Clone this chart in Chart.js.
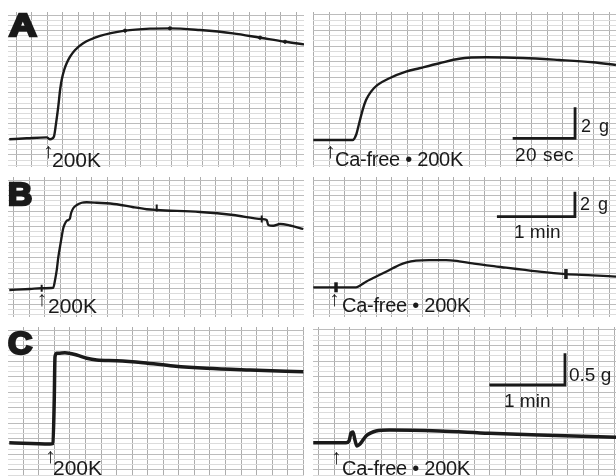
<!DOCTYPE html>
<html>
<head>
<meta charset="utf-8">
<script src="https://cdn.jsdelivr.net/npm/chart.js@4.4.1/dist/chart.umd.min.js"></script>
<style>
  html, body { margin: 0; padding: 0; background: #fff; }
  #fig { position: relative; width: 616px; height: 476px; overflow: hidden; background: #fff;
         font-family: "Liberation Sans", Arial, sans-serif; color: #1a1a1a; }
  #fig canvas { position: absolute; }
  .t { position: absolute; white-space: nowrap; line-height: 1; font-size: 20px; }
  .arr { position: absolute; line-height: 1; font-size: 21px; font-family: "Liberation Sans", Arial, sans-serif; }
  .lt { position: absolute; line-height: 1; font-size: 32px; font-weight: 700; white-space: nowrap;
        -webkit-text-stroke: 2.5px #1a1a1a; transform-origin: 0 0; }
</style>
</head>
<body>
<div id="fig">
  <canvas id="aCtrl"></canvas><canvas id="aCa"></canvas>
  <canvas id="bCtrl"></canvas><canvas id="bCa"></canvas>
  <canvas id="cCtrl"></canvas><canvas id="cCa"></canvas>

  <div class="lt" style="left:9px;top:9px;transform:scaleX(1.2)">A</div>
  <div class="lt" style="left:8px;top:178px;transform:scaleX(1.05)">B</div>
  <div class="lt" style="left:8px;top:327px;transform:scaleX(1.05)">C</div>

  <div class="arr" style="left:43px;top:140px">↑</div>
  <div class="t" style="left:52px;top:148.7px;font-size:21px">200K</div>
  <div class="arr" style="left:325px;top:140px">↑</div>
  <div class="t" style="left:335px;top:149px;letter-spacing:-0.25px">Ca-free • 200K</div>
  <div class="t" style="left:581px;top:116.8px;font-size:18px;letter-spacing:1.5px">2 g</div>
  <div class="t" style="left:515px;top:145px;font-size:19px;letter-spacing:0.5px">20 sec</div>

  <div class="arr" style="left:36.5px;top:288px">↑</div>
  <div class="t" style="left:48px;top:295.2px;font-size:21px">200K</div>
  <div class="arr" style="left:329px;top:288px">↑</div>
  <div class="t" style="left:342px;top:294.8px;letter-spacing:-0.25px">Ca-free • 200K</div>
  <div class="t" style="left:580px;top:194.8px;font-size:18px;letter-spacing:1.5px">2 g</div>
  <div class="t" style="left:514px;top:222px;font-size:19px">1 min</div>

  <div class="arr" style="left:45px;top:445px">↑</div>
  <div class="t" style="left:53px;top:457.2px;font-size:21px">200K</div>
  <div class="arr" style="left:331px;top:446px">↑</div>
  <div class="t" style="left:342px;top:458px;letter-spacing:-0.25px">Ca-free • 200K</div>
  <div class="t" style="left:569px;top:365px;font-size:19px">0.5 g</div>
  <div class="t" style="left:504px;top:391px;font-size:19px">1 min</div>
</div>

<script>
// ---- Tension traces (time in s, tension in g above resting level) ----

// A: normal solution, 200 mM K+
const aCtrlTime    = [0.4, 6, 12.4, 13.5, 14.7, 15.4, 16.1, 16.7, 17.2, 18.0, 18.8, 19.9, 21.5, 24.1, 29.5, 37.5, 45.5, 51.9, 61.5, 72.1, 80.8, 88.8, 94.9];
const aCtrlTension = [-0.08, -0.02, 0.04, -0.08, 0.08, 0.94, 1.99, 3.08, 3.72, 4.36, 4.79, 5.21, 5.64, 6.07, 6.54, 6.88, 7.01, 7.03, 6.92, 6.71, 6.43, 6.17, 6.0];
const aCtrlMarkTime    = [37.5, 51.9, 80.8, 88.8];
const aCtrlMarkTension = [6.88, 7.03, 6.43, 6.17];

// A: Ca-free solution, 200 mM K+
const aCaTime    = [0.1, 6, 12.7, 13.8, 14.8, 15.9, 17.0, 18.6, 20.7, 24.5, 29.8, 34.1, 40.5, 46.9, 55.5, 67.2, 78.9, 89.7, 97.1];
const aCaTension = [0, 0, 0, 0.32, 1.07, 1.92, 2.56, 3.10, 3.53, 3.96, 4.38, 4.60, 4.92, 5.21, 5.30, 5.26, 5.13, 4.98, 4.81];
// calibration: 20 s, 2 g
const aBarTime    = [64, 84, 84];
const aBarTension = [0.1, 0.1, 2.1];

// B: normal solution, 200 mM K+
const bCtrlTime    = [1.0, 16.9, 25.9, 34.8, 36.2, 37.5, 38.7, 40.0, 41.3, 42.5, 43.9, 45.2, 46.4, 47.7, 48.5, 50.2, 52.9, 56.7, 60.5, 68.2, 83.6, 96.4, 106.7, 114.4, 147.7, 173.3, 195.2, 199.0, 200.2, 204.1, 209.2, 216.9, 227.2];
const bCtrlTension = [-0.16, -0.08, -0.02, 0.02, 0.64, 1.44, 2.46, 3.30, 4.10, 4.78, 5.17, 5.38, 5.44, 5.58, 5.98, 6.38, 6.64, 6.82, 6.86, 6.82, 6.70, 6.46, 6.30, 6.24, 6.08, 5.84, 5.52, 5.44, 5.04, 4.98, 5.12, 5.00, 4.72];
const bCtrlMarkTime    = [25.9, 114.4, 195.2];
const bCtrlMarkTension = [-0.02, 6.40, 5.52];

// B: Ca-free solution, 200 mM K+
const bCaTime    = [0.2, 33.1, 36.9, 40.8, 45.9, 51.0, 56.2, 61.3, 66.4, 71.5, 79.2, 89.5, 102.3, 112.5, 122.8, 135.6, 148.5, 161.3, 174.1, 194.6, 215.2, 233.1];
const bCaTension = [0, 0, 0.18, 0.45, 0.72, 0.98, 1.25, 1.52, 1.78, 1.97, 2.13, 2.18, 2.18, 2.08, 1.92, 1.73, 1.57, 1.41, 1.25, 1.06, 0.96, 0.85];
const bCaMarkTime    = [17.7, 194.6];
const bCaMarkTension = [0, 1.06];
// calibration: 1 min, 2 g
const bBarTime    = [141.5, 201.5, 201.5];
const bBarTension = [5.65, 5.65, 7.65];

// C: normal solution, 200 mM K+
const cCtrlTime    = [1.0, 33.3, 35.7, 36.7, 37.3, 38.7, 39.9, 45.2, 54.5, 62.5, 70.4, 86.3, 107.4, 131.2, 157.7, 192.1, 234.4];
const cCtrlTension = [0.005, -0.016, -0.008, 0.68, 1.361, 1.415, 1.415, 1.424, 1.388, 1.336, 1.309, 1.298, 1.267, 1.215, 1.178, 1.151, 1.125];

// C: Ca-free solution, 200 mM K+
const cCaTime    = [0.2, 26.2, 28.6, 30.2, 31.7, 33.3, 34.9, 37.3, 42.1, 46.0, 50.0, 60.6, 100.2, 139.9, 179.6, 240.5];
const cCaTension = [0, 0, 0.027, 0.153, 0.169, 0.042, -0.052, -0.021, 0.105, 0.155, 0.185, 0.20, 0.185, 0.148, 0.121, 0.085];
// calibration: 1 min, 0.5 g
const cBarTime    = [140, 200, 200];
const cBarTension = [0.91, 0.91, 1.41];

// ---- Chart-paper look ----
const INK = '#1a1a1a';
const GRID_V = 15.55;      // px between vertical rulings
const GRID_H = 5.18;       // px between horizontal rulings (every 3rd is heavier)

function pts(xs, ys) { return xs.map((x, i) => ({ x: x, y: ys[i] })); }

// Rulings are laid out in pixels of the recording paper, then turned into axis values.
function paperTicks(stepPx, phasePx, heavyEvery) {
  return function (scale) {
    const horiz = scale.isHorizontal();
    const span = horiz ? scale.width : scale.height;
    const perPx = (scale.max - scale.min) / span;
    const step = stepPx * perPx;
    const ticks = [];
    for (let i = 0; i < 400; i++) {
      const v = horiz ? scale.min + (phasePx * perPx) + i * step
                      : scale.max - (phasePx * perPx) - i * step;
      if (v > scale.max + 1e-9 || v < scale.min - 1e-9) break;
      ticks.push({ value: v, heavy: heavyEvery ? (i % heavyEvery === 0) : true });
    }
    scale.ticks = ticks;
  };
}

function makePanel(p) {
  const el = document.getElementById(p.id);
  el.width = p.box[2]; el.height = p.box[3];
  el.style.left = p.box[0] + 'px'; el.style.top = p.box[1] + 'px';

  const datasets = [{
    data: pts(p.time, p.tension),
    borderColor: INK, borderWidth: p.lw, pointRadius: 0,
    cubicInterpolationMode: 'monotone', fill: false
  }];
  if (p.markTime) {
    datasets.push({
      data: pts(p.markTime, p.markTension), showLine: false,
      pointStyle: p.markStyle, rotation: 90, pointRadius: p.markSize,
      borderColor: INK, backgroundColor: INK, pointBorderWidth: p.markWidth
    });
  }
  if (p.barTime) {
    datasets.push({
      data: pts(p.barTime, p.barTension), borderColor: INK, borderWidth: 2.8,
      pointRadius: 0, tension: 0, borderJoinStyle: 'miter', borderCapStyle: 'butt'
    });
  }

  new Chart(el, {
    type: 'line',
    data: { datasets: datasets },
    options: {
      responsive: false, animation: false, devicePixelRatio: 1, events: [],
      layout: { padding: 0, autoPadding: false },
      plugins: { legend: { display: false }, tooltip: { enabled: false } },
      scales: {
        x: {
          type: 'linear', min: p.x[0], max: p.x[1],
          afterBuildTicks: paperTicks(GRID_V, p.phase[0], 0),
          ticks: { display: false },
          grid: { drawTicks: false, lineWidth: 1, color: '#adadad' },
          border: { display: false }
        },
        y: {
          type: 'linear', min: p.y[0], max: p.y[1],
          afterBuildTicks: paperTicks(GRID_H, p.phase[1], 3),
          ticks: { display: false },
          grid: {
            drawTicks: false, lineWidth: 1,
            color: (c) => (c.tick && c.tick.heavy) ? '#bcbcbc' : '#dcdcdc'
          },
          border: { display: false }
        }
      }
    }
  });
}

const panels = [
  { id: 'aCtrl', box: [8, 12, 296, 155], x: [0, 94.87], y: [-1.859, 8.077], phase: [8.2, 3], lw: 2.4,
    time: aCtrlTime, tension: aCtrlTension,
    markTime: aCtrlMarkTime, markTension: aCtrlMarkTension, markStyle: 'circle', markSize: 1.6, markWidth: 1 },
  { id: 'aCa', box: [313, 12, 303, 155], x: [0, 97.12], y: [-1.731, 8.205], phase: [1, 3], lw: 2.4,
    time: aCaTime, tension: aCaTension, barTime: aBarTime, barTension: aBarTension },
  { id: 'bCtrl', box: [8, 177, 296, 140], x: [0, 227.7], y: [-2.32, 8.88], phase: [5.8, 3], lw: 2.3,
    time: bCtrlTime, tension: bCtrlTension,
    markTime: bCtrlMarkTime, markTension: bCtrlMarkTension, markStyle: 'line', markSize: 3.5, markWidth: 2 },
  { id: 'bCa', box: [313, 177, 303, 140], x: [0, 233.1], y: [-2.376, 8.824], phase: [0.8, 3], lw: 2.3,
    time: bCaTime, tension: bCaTension,
    markTime: bCaMarkTime, markTension: bCaMarkTension, markStyle: 'line', markSize: 5, markWidth: 3.5,
    barTime: bBarTime, barTension: bBarTension },
  { id: 'cCtrl', box: [8, 327, 296, 149], x: [0, 234.9], y: [-0.5205, 1.8297], phase: [15.3, 3], lw: 3.5,
    time: cCtrlTime, tension: cCtrlTension },
  { id: 'cCa', box: [313, 327, 303, 149], x: [0, 240.5], y: [-0.5252, 1.8249], phase: [5.8, 3], lw: 3.5,
    time: cCaTime, tension: cCaTension, barTime: cBarTime, barTension: cBarTension }
];

panels.forEach(makePanel);
</script>
</body>
</html>
